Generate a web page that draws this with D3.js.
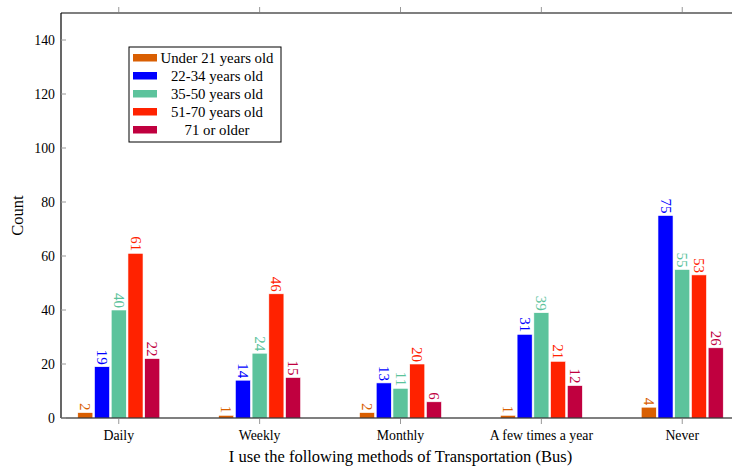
<!DOCTYPE html>
<html>
<head>
<meta charset="utf-8">
<script src="https://cdn.jsdelivr.net/npm/d3@7"></script>
<style>
  body { margin: 0; background: #fff; }
  svg { display: block; font-family: "Liberation Serif", "Times New Roman", serif; }
</style>
</head>
<body>
<div id="chart"></div>
<script>
const width = 732;
const height = 467;

// data
const categories = ["Daily", "Weekly", "Monthly", "A few times a year", "Never"];
const seriesNames = ["Under 21 years old", "22-34 years old", "35-50 years old", "51-70 years old", "71 or older"];
const seriesColors = ["#d95f02", "#0000ff", "#5cc39c", "#ff2200", "#c0003f"];
const under21 = [2, 1, 2, 1, 4];
const age22to34 = [19, 14, 13, 31, 75];
const age35to50 = [40, 24, 11, 39, 55];
const age51to70 = [61, 46, 20, 21, 53];
const age71plus = [22, 15, 6, 12, 26];
const yTicks = [0, 20, 40, 60, 80, 100, 120, 140];

const seriesValues = [under21, age22to34, age35to50, age51to70, age71plus];

const margin = {left: 61, top: 13, right: -8, bottom: 49};
const x0 = margin.left, x1 = width - margin.right;
const y0 = height - margin.bottom, y1 = margin.top;

const svg = d3.select("#chart").append("svg")
    .attr("width", width)
    .attr("height", height);

const x = d3.scalePoint().domain(categories).range([x0, x1]).padding(0.41);
const xs = d3.scaleBand().domain(d3.range(seriesNames.length)).range([-41, 41]).paddingInner(0.1);
const y = d3.scaleLinear().domain([0, 150]).range([y0, y1]);

// bars
const groups = svg.append("g").selectAll("g")
    .data(categories)
    .join("g")
    .attr("transform", d => `translate(${x(d)},0)`);

groups.each(function(cat, ci) {
    const g = d3.select(this);
    seriesValues.forEach((vals, si) => {
        const v = vals[ci];
        g.append("rect")
            .attr("x", xs(si))
            .attr("width", xs.bandwidth())
            .attr("y", y(v))
            .attr("height", y(0) - y(v))
            .attr("fill", seriesColors[si])
            .attr("stroke", "#fff")
            .attr("stroke-width", 0.6);
        g.append("text")
            .attr("transform", `translate(${xs(si) + xs.bandwidth() / 2},${y(v) - 2}) rotate(90)`)
            .attr("text-anchor", "end")
            .attr("dy", "0.33em")
            .attr("font-size", 15)
            .attr("fill", seriesColors[si])
            .text(v);
    });
});

// frame
svg.append("line").attr("x1", x0).attr("x2", x1).attr("y1", y0).attr("y2", y0).attr("stroke", "#000").attr("stroke-width", 1.2);
svg.append("line").attr("x1", x0).attr("x2", x1).attr("y1", y1).attr("y2", y1).attr("stroke", "#000").attr("stroke-width", 1.2);
svg.append("line").attr("x1", x0).attr("x2", x0).attr("y1", y0).attr("y2", y1).attr("stroke", "#000").attr("stroke-width", 1.2);

// y ticks
const yAxis = svg.append("g");
yTicks.forEach(t => {
    yAxis.append("line").attr("x1", x0).attr("x2", x0 + 5).attr("y1", y(t)).attr("y2", y(t)).attr("stroke", "#999");
    yAxis.append("text")
        .attr("x", x0 - 6).attr("y", y(t)).attr("dy", "0.35em")
        .attr("text-anchor", "end").attr("font-size", 13.8)
        .text(t);
});

// x ticks, bottom and top
const xAxis = svg.append("g");
categories.forEach(c => {
    xAxis.append("line").attr("x1", x(c)).attr("x2", x(c)).attr("y1", y0 + 1).attr("y2", y0 + 6).attr("stroke", "#999");
    xAxis.append("line").attr("x1", x(c)).attr("x2", x(c)).attr("y1", y1 - 1).attr("y2", y1 - 6).attr("stroke", "#999");
    xAxis.append("text")
        .attr("x", x(c)).attr("y", y0 + 22)
        .attr("text-anchor", "middle").attr("font-size", 13.8)
        .text(c);
});

// axis labels
svg.append("text")
    .attr("transform", `translate(23,${(y0 + y1) / 2}) rotate(-90)`)
    .attr("text-anchor", "middle").attr("font-size", 16.5)
    .text("Count");
svg.append("text")
    .attr("x", (x0 + x1) / 2).attr("y", y0 + 44)
    .attr("text-anchor", "middle").attr("font-size", 16.5)
    .text("I use the following methods of Transportation (Bus)");

// legend
const legend = svg.append("g").attr("transform", "translate(129,47)");
legend.append("rect").attr("width", 152).attr("height", 95)
    .attr("fill", "#fff").attr("stroke", "#000").attr("stroke-width", 1);
seriesNames.forEach((name, i) => {
    const cy = 11 + i * 18;
    legend.append("rect").attr("x", 4).attr("y", cy - 4).attr("width", 24).attr("height", 7.5)
        .attr("fill", seriesColors[i]);
    legend.append("text").attr("x", 88).attr("y", cy).attr("dy", "0.35em")
        .attr("text-anchor", "middle").attr("font-size", 14.8)
        .text(name);
});
</script>
</body>
</html>
